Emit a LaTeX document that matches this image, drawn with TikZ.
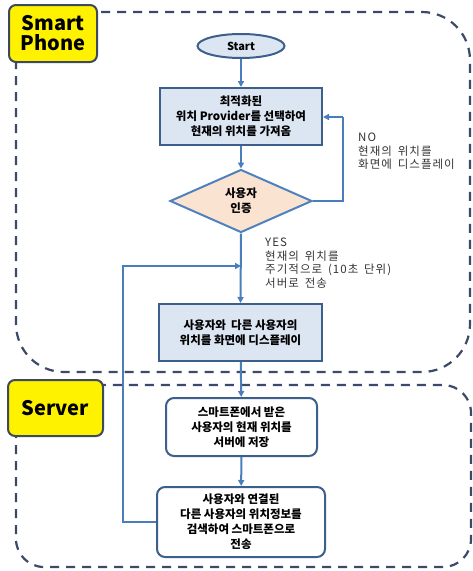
\documentclass[tikz,border=0pt]{standalone}
\usepackage{fontspec}
\setmainfont{Noto Sans CJK KR}
\newfontfamily\notefont[LetterSpace=9,WordSpace=1.6]{Noto Sans CJK KR}
\usetikzlibrary{shapes.geometric,arrows.meta}
\definecolor{regline}{HTML}{3A4A68}
\definecolor{arrowc}{HTML}{4A7EBB}
\definecolor{boxline}{HTML}{3D5F8C}
\definecolor{boxfill}{HTML}{DCE6F2}
\definecolor{diafill}{HTML}{FBE3D2}
\definecolor{diaLine}{HTML}{4F81BD}
\definecolor{labline}{HTML}{3C4A5C}
\tikzset{
  region/.style={draw=regline, line width=2.2pt, dash pattern=on 9pt off 7pt},
  lanelabel/.style={draw=labline, fill=yellow, line width=2pt, rounded corners=7pt, font=\bfseries\fontsize{20}{23}\selectfont, align=center, inner sep=0pt},
  flowbox/.style={draw=boxline, fill=boxfill, line width=2pt, align=center, font=\bfseries\fontsize{11.5}{15}\selectfont, inner sep=0pt},
  srvbox/.style={draw=boxline, fill=white, line width=2pt, rounded corners=8pt, align=center, font=\bfseries\fontsize{11.5}{15}\selectfont, inner sep=0pt},
  startnode/.style={ellipse, draw=boxline, fill=boxfill, line width=2pt, font=\bfseries\fontsize{11}{13}\selectfont, inner sep=0pt, minimum width=87pt, minimum height=24pt},
  decision/.style={diamond, draw=diaLine, fill=diafill, line width=2pt, aspect=2.25, font=\bfseries\fontsize{11.5}{15}\selectfont, align=center, inner sep=0pt, minimum width=142pt, minimum height=63pt},
  flow/.style={draw=arrowc, line width=2pt, -{Triangle[length=6pt,width=6pt]}},
  flowline/.style={draw=arrowc, line width=2pt},
  note/.style={align=left, anchor=north west, font=\notefont\fontsize{11.5}{13.6}\selectfont, text=black!80, inner sep=0pt},
}
\begin{document}
\begin{tikzpicture}[x=1pt,y=-1pt]
\useasboundingbox (0,0) rectangle (472,571);
% regions
\draw[region, rounded corners=48pt] (16,12) rectangle (470,372);
\draw[region, rounded corners=28pt] (16,385) rectangle (471,567);
% lane labels
\node[lanelabel, minimum width=88pt, minimum height=57pt] (lsp) at (53,33.5) {Smart\\[-3pt]Phone};
\node[lanelabel, minimum width=95pt, minimum height=56pt] (lsv) at (55.5,408) {Server};
% flow nodes
\node[startnode] (start) at (241,46) {Start};
\node[flowbox, minimum width=162pt, minimum height=57pt] (b1) at (241,116.5) {최적화된\\위치 Provider를 선택하여\\현재의 위치를 가져옴};
\node[decision] (dec) at (241,201) {사용자\\인증};
\node[flowbox, minimum width=163pt, minimum height=57pt] (b3) at (240.5,332.5) {사용자와 \ 다른 사용자의\\위치를 화면에 디스플레이};
\node[srvbox, minimum width=151pt, minimum height=58pt] (s1) at (241.5,427) {스마트폰에서 받은\\사용자의 현재 위치를\\서버에 저장};
\node[srvbox, minimum width=168pt, minimum height=70pt] (s2) at (241,522) {사용자와 연결된\\다른 사용자의 위치정보를\\검색하여 스마트폰으로\\전송};
% coordinates
\coordinate (noR) at (343,201);
\coordinate (noT) at (343,117);
\coordinate (mergeIn) at (241,266);
\coordinate (loopB) at (123,522);
\coordinate (loopT) at (123,266);
% connectors
\draw[flow] (start) -- (b1);
\draw[flow] (b1) -- (dec);
\draw[flowline] (dec.east) -- (noR) -- (noT);
\draw[flow] (noT) -- (b1.east |- noT);
\draw[flow] (dec.south) -- (b3.north);
\draw[flow] (s2.west |- loopB) -- (loopB) -- (loopT) -- (mergeIn);
\draw[flow] (b3) -- (s1);
\draw[flow] (s1) -- (s2);
% notes
\node[note] (nolab) at (358,133) {NO\\현재의 위치를\\화면에 디스플레이};
\node[note] (yeslab) at (265,238) {YES\\현재의 위치를\\주기적으로 (10초 단위)\\서버로 전송};
\end{tikzpicture}
\end{document}
